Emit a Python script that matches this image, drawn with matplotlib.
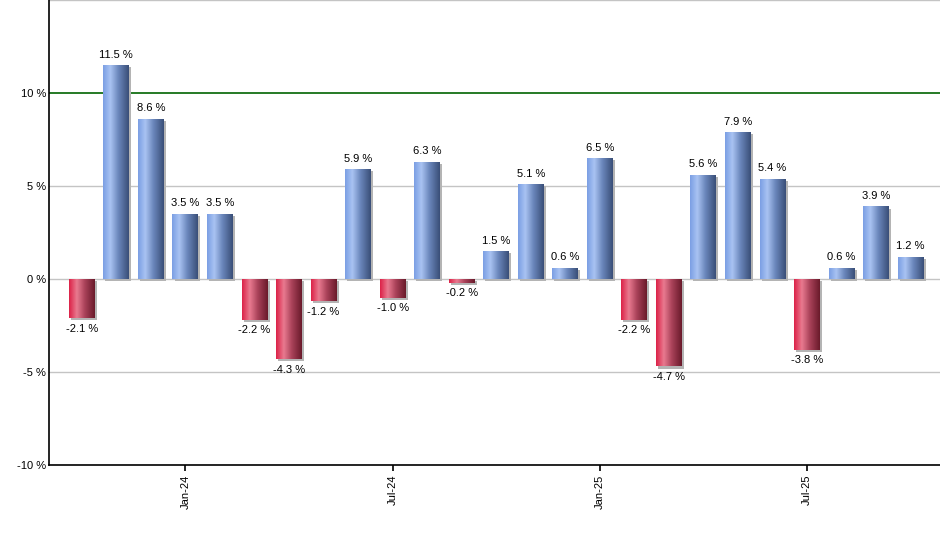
import numpy as np
import matplotlib.pyplot as plt
from matplotlib.colors import LinearSegmentedColormap
import matplotlib.patheffects as pe

plt.rcParams['font.family'] = ['Liberation Sans', 'DejaVu Sans']

months = ['Oct-23', 'Nov-23', 'Dec-23', 'Jan-24', 'Feb-24', 'Mar-24', 'Apr-24',
          'May-24', 'Jun-24', 'Jul-24', 'Aug-24', 'Sep-24', 'Oct-24', 'Nov-24',
          'Dec-24', 'Jan-25', 'Feb-25', 'Mar-25', 'Apr-25', 'May-25', 'Jun-25',
          'Jul-25', 'Aug-25', 'Sep-25', 'Oct-25']
returns = [-2.1, 11.5, 8.6, 3.5, 3.5, -2.2, -4.3, -1.2, 5.9, -1.0, 6.3, -0.2,
           1.5, 5.1, 0.6, 6.5, -2.2, -4.7, 5.6, 7.9, 5.4, -3.8, 0.6, 3.9, 1.2]
tick_months = ['Jan-24', 'Jul-24', 'Jan-25', 'Jul-25']
yticks = [-10, -5, 0, 5, 10]
target = 10

blue_cm = LinearSegmentedColormap.from_list(
    'blue', [(0, '#7b9fe4'), (0.28, '#a9c3f2'), (0.6, '#6a86bb'), (1, '#3a4f78')])
red_cm = LinearSegmentedColormap.from_list(
    'red', [(0, '#dc2348'), (0.3, '#e97a90'), (0.62, '#a84158'), (1, '#6a1a2b')])

fig = plt.figure(figsize=(9.4, 5.5), dpi=100)
ax = fig.add_axes([49/940, 1 - 465/550, 1 - 49/940, 465/550])

x = np.arange(len(returns))
width = 0.75
# shadow only: the patch itself is not drawn, just its offset grey copy
shadows = ax.bar(x, returns, width=width, color='#b4b4b4', zorder=2)
for s in shadows:
    s.set_path_effects([pe.SimplePatchShadow(offset=(1.5, -1.5),
                                             shadow_rgbFace='#b4b4b4', alpha=1)])
bars = ax.bar(x, returns, width=width, color='none', edgecolor='none', zorder=3)

grad = np.linspace(0, 1, 64).reshape(1, -1)
for b, v in zip(bars, returns):
    x0 = b.get_x()
    x1 = x0 + b.get_width()
    y0, y1 = sorted([0, v])
    im = ax.imshow(grad, extent=[x0, x1, y0, y1], aspect='auto',
                   cmap=blue_cm if v >= 0 else red_cm, zorder=3, interpolation='bilinear')
    im.set_clip_path(b)
    label = f'{v:.1f} %'
    if v >= 0:
        ax.annotate(label, (b.get_x() + width/2, v), xytext=(0, 4),
                    textcoords='offset points', ha='center', va='bottom', fontsize=8)
    else:
        ax.annotate(label, (b.get_x() + width/2, v), xytext=(0, -4),
                    textcoords='offset points', ha='center', va='top', fontsize=8)

for y in yticks + [15]:
    if y != target:
        ax.axhline(y, color='#c4c4c4', lw=1, zorder=1)
ax.axhline(target, color='#006400', lw=1.2, zorder=1)

ax.set_xlim(-0.95, 24.85)
ax.set_ylim(-10, 15)
ax.set_yticks(yticks)
ax.set_yticklabels([f'{t} %' for t in yticks], fontsize=8)
ax.tick_params(axis='y', length=0, pad=2)
ax.set_xticks([months.index(m) for m in tick_months])
ax.set_xticklabels(tick_months, rotation=90, fontsize=8)
ax.tick_params(axis='x', length=4, width=1.2, pad=3)

for s in ['top', 'right']:
    ax.spines[s].set_visible(False)
for s in ['left', 'bottom']:
    ax.spines[s].set_linewidth(1.2)
    ax.spines[s].set_zorder(5)

fig.savefig('out.png', dpi=100)
